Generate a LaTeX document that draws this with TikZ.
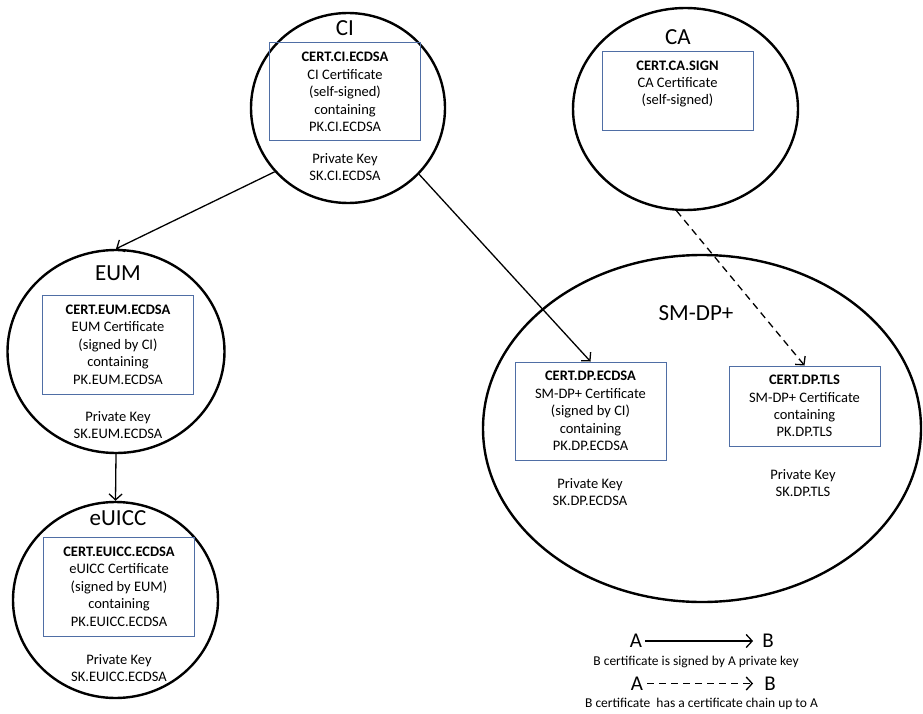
\documentclass[tikz,border=0pt]{standalone}
\usepackage{fontspec}
\setmainfont{Carlito}
\usetikzlibrary{shapes.geometric,arrows.meta}
\definecolor{boxblue}{RGB}{79,110,165}
\begin{document}
\begin{tikzpicture}[x=1pt,y=-1pt,
  ent/.style={draw, ellipse, line width=2.4pt, inner sep=0pt},
  cert/.style={draw=boxblue, line width=1pt, minimum width=151pt, align=center,
    font=\fontsize{14.5}{17.4}\selectfont, inner sep=0pt},
  keytxt/.style={align=center, font=\fontsize{14.5}{17}\selectfont},
  biglbl/.style={font=\fontsize{23}{27}\selectfont},
  leglbl/.style={font=\fontsize{21}{24}\selectfont, inner sep=0pt},
  captxt/.style={font=\fontsize{13.5}{16}\selectfont, inner sep=0pt},
  sig/.style={line width=1.3pt, -{Straight Barb[length=6pt,width=13pt]}},
  chain/.style={sig, dash pattern=on 7pt off 5pt}
]
\useasboundingbox (0,0) rectangle (923,714);

% CI
\node[ent, minimum width=194pt, minimum height=190pt] (ci) at (348,108) {};
\node[biglbl] (cil) at (345,28) {CI};
\node[cert, minimum height=98pt] (cic) at (345,92)
  {\textbf{CERT.CI.ECDSA}\\CI Certificate\\(self-signed)\\containing\\PK.CI.ECDSA};
\node[keytxt] (cik) at (345,167) {Private Key\\SK.CI.ECDSA};

% CA
\node[ent, minimum width=225pt, minimum height=202pt] (ca) at (685.5,109) {};
\node[biglbl] (cal) at (678,37) {CA};
\node[cert, minimum height=79pt] (cac) at (677.5,91.5)
  {\textbf{CERT.CA.SIGN}\\CA Certificate\\(self-signed)\\\mbox{}};

% EUM
\node[ent, minimum width=217pt, minimum height=203pt] (eum) at (116,351.5) {};
\node[biglbl] (euml) at (118,273) {EUM};
\node[cert, minimum height=99pt] (eumc) at (118,344.5)
  {\textbf{CERT.EUM.ECDSA}\\EUM Certificate\\(signed by CI)\\containing\\PK.EUM.ECDSA};
\node[keytxt] (eumk) at (118,425) {Private Key\\SK.EUM.ECDSA};

% eUICC
\node[ent, minimum width=205pt, minimum height=196pt] (euicc) at (115.5,600) {};
\node[biglbl] (euiccl) at (118,518) {eUICC};
\node[cert, minimum height=99pt] (euiccc) at (119,586.5)
  {\textbf{CERT.EUICC.ECDSA}\\eUICC Certificate\\(signed by EUM)\\containing\\PK.EUICC.ECDSA};
\node[keytxt] (euicck) at (119,668) {Private Key\\SK.EUICC.ECDSA};

% SM-DP+
\node[ent, minimum width=438pt, minimum height=347pt] (dp) at (702,428.5) {};
\node[biglbl] (dpl) at (696,313) {SM-DP+};
\node[cert, minimum height=98pt] (dpe) at (590.5,411)
  {\textbf{CERT.DP.ECDSA}\\SM-DP+ Certificate\\(signed by CI)\\containing\\PK.DP.ECDSA};
\node[keytxt] (dpek) at (590,492) {Private Key\\SK.DP.ECDSA};
\node[cert, minimum height=80pt] (tls) at (804.5,406)
  {\textbf{CERT.DP.TLS}\\SM-DP+ Certificate\\containing\\PK.DP.TLS};
\node[keytxt] (tlsk) at (803,483.5) {Private Key\\SK.DP.TLS};

% connectors
\draw[sig] (ci.221) -- (eum.north);
\draw[sig] (ci.317) -- (dpe.north);
\draw[chain] (ca.265) -- (tls.north);
\draw[sig] (eum.south) -- (euicc.north);

% legend
\node[leglbl] (a1) at (636,641) {A};
\node[leglbl] (b1) at (768,641) {B};
\draw[sig, shorten <=3pt, shorten >=9pt] (a1) -- (b1);
\node[captxt] (c1) at (696,662) {B certificate is signed by A private key};
\node[leglbl] (a2) at (637,683.5) {A};
\node[leglbl] (b2) at (770,683.5) {B};
\draw[chain, shorten <=4pt, shorten >=11pt] (a2) -- (b2);
\node[captxt] (c2) at (701.5,703.5) {B certificate\ \ has a certificate chain up to A};
\end{tikzpicture}
\end{document}
